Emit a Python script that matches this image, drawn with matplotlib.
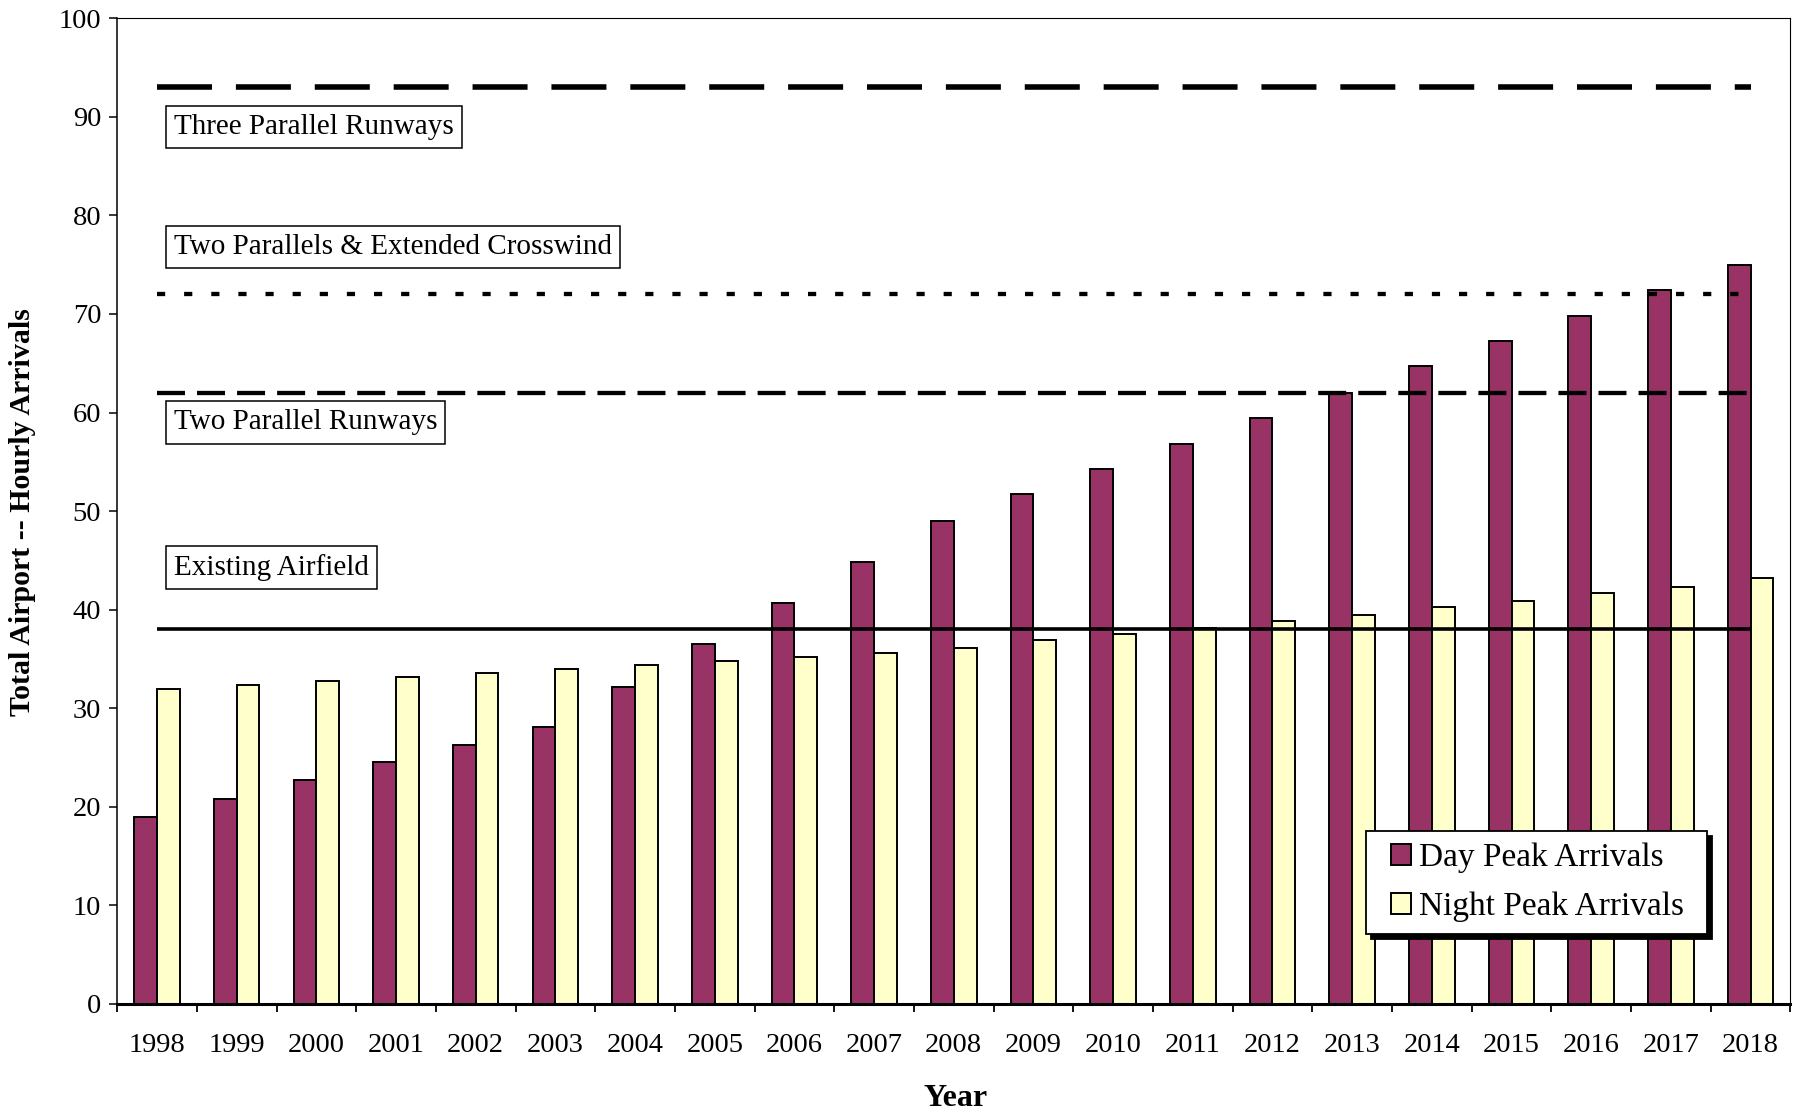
import numpy as np
import matplotlib
matplotlib.use("Agg")
import matplotlib.pyplot as plt
import matplotlib.patches as mpatches
from matplotlib.legend_handler import HandlerPatch

plt.rcParams['font.family'] = ['Liberation Serif', 'DejaVu Serif']

years = [str(y) for y in range(1998, 2019)]
day_peak = [19.0, 20.8, 22.7, 24.5, 26.3, 28.1, 32.2, 36.5, 40.7, 44.8, 49.0,
            51.7, 54.3, 56.8, 59.4, 62.0, 64.7, 67.3, 69.8, 72.4, 75.0]
night_peak = [32.0, 32.4, 32.8, 33.2, 33.6, 34.0, 34.4, 34.8, 35.2, 35.6, 36.1,
              36.9, 37.5, 38.1, 38.9, 39.5, 40.3, 40.9, 41.7, 42.3, 43.2]

# capacity levels and their labels
cap_names = ["Three Parallel Runways", "Two Parallels & Extended Crosswind",
             "Two Parallel Runways", "Existing Airfield"]
cap_values = [93, 72, 62, 38]
cap_label_y = [89.0, 76.8, 59.0, 44.3]

day_color = "#993366"
night_color = "#FFFFCC"

fig = plt.figure(figsize=(18.03, 11.15), dpi=100)
ax = fig.add_axes([0.065, 0.0996, 0.928, 0.884])

x = np.arange(len(years))
w = 1 / 3.5
ax.bar(x - w / 2, day_peak, w, color=day_color, edgecolor="black", linewidth=1.4, zorder=2)
ax.bar(x + w / 2, night_peak, w, color=night_color, edgecolor="black", linewidth=1.4, zorder=2)

line_styles = [
    dict(lw=4.0, dashes=(9.9, 4.3)),
    dict(lw=3.1, dashes=(1.9, 4.4)),
    dict(lw=3.1, dashes=(6.5, 2.8)),
    dict(lw=2.6),
]
for val, st in zip(cap_values, line_styles):
    ax.plot([x[0], x[-1]], [val, val], color="black", solid_capstyle="butt",
            dash_capstyle="butt", zorder=3, **st)

for name, yy in zip(cap_names, cap_label_y):
    ax.text(0.21, yy, name, fontsize=21, ha="left", va="center", zorder=4,
            bbox=dict(boxstyle="square,pad=0.28", facecolor="white",
                      edgecolor="black", linewidth=1.1))

ax.set_xlim(-0.5, len(years) - 0.5)
ax.set_ylim(0, 100)
ax.set_yticks(range(0, 101, 10))
ax.tick_params(axis="y", direction="out", length=5.5, width=1.1, labelsize=20.5, pad=6)

ax.set_xticks(np.arange(-0.5, len(years), 1.0))
ax.set_xticklabels([])
ax.set_xticks(x, minor=True)
ax.set_xticklabels(years, minor=True)
ax.tick_params(axis="x", which="major", direction="out", length=6, width=1.3)
ax.tick_params(axis="x", which="minor", length=0, labelsize=20.5, pad=21)

ax.spines["left"].set_linewidth(1.1)
ax.spines["bottom"].set_linewidth(2.2)
ax.spines["top"].set_linewidth(0.8)
ax.spines["right"].set_linewidth(0.8)

fig.text(955.6 / 1803, 1 - 1099 / 1115, "Year", fontsize=23, fontweight="bold",
         ha="center", va="center")
fig.text(23 / 1803, 1 - 512 / 1115, "Total Airport -- Hourly Arrivals", fontsize=21.5,
         fontweight="bold", rotation=90, ha="center", va="center")

handles = [mpatches.Patch(facecolor=day_color, edgecolor="black", linewidth=1.4),
           mpatches.Patch(facecolor=night_color, edgecolor="black", linewidth=1.4)]
leg = ax.legend(handles, ["Day Peak Arrivals", "Night Peak Arrivals"],
                handler_map={mpatches.Patch: HandlerPatch(xpad=0.4)},
                loc="lower left", bbox_to_anchor=(0.7462, 0.071, 0.2038, 0.1045),
                mode="expand", borderaxespad=0, fontsize=24,
                frameon=True, fancybox=False, handlelength=1.0, handleheight=0.6,
                handletextpad=0.25, labelspacing=0.55, borderpad=0.36,
                shadow={"ox": 3.6, "oy": -3.6, "color": "black", "alpha": 1})
leg.get_frame().set_edgecolor("black")
leg.get_frame().set_linewidth(1.3)

fig.savefig("out.png", dpi=100)
